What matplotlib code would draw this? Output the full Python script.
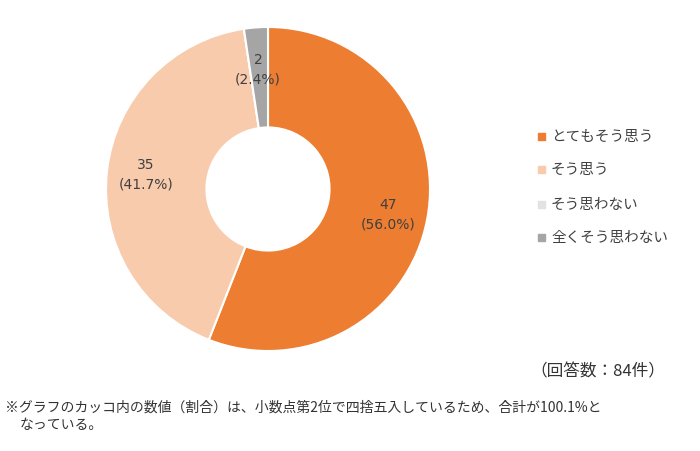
import matplotlib
matplotlib.use("Agg")
import matplotlib.pyplot as plt
import numpy as np

plt.rcParams["font.family"] = "Noto Sans CJK JP"

categories = ["とてもそう思う", "そう思う", "そう思わない", "全くそう思わない"]
values = [47, 35, 0, 2]
pcts = ["56.0%", "41.7%", "0.0%", "2.4%"]
colors = ["#ED7D31", "#F8CBAD", "#E2E2E2", "#A5A5A5"]

fig = plt.figure(figsize=(7, 4.52), dpi=100)
ax = fig.add_axes([(268 - 162) / 700, (452 - 190 - 162) / 452, 324 / 700, 324 / 452])
wedges, _ = ax.pie(values, colors=colors, startangle=90, counterclock=False,
                   wedgeprops=dict(width=0.62, edgecolor="white", linewidth=1.5))
ax.set_xlim(-1, 1)
ax.set_ylim(-1, 1)
ax.set_aspect("equal")

label_px = {0: (388, 215), 1: (146, 175), 3: (258, 70)}
for i, (px, py) in label_px.items():
    fig.text(px / 700, 1 - py / 452, f"{values[i]}\n({pcts[i]})", ha="center", va="center",
             fontsize=10, color="#404040", linespacing=1.5, family="DejaVu Sans")

ys = [137, 170, 205, 238]
for lab, y, col in zip(categories, ys, colors):
    fig.patches.append(plt.Rectangle((538 / 700, 1 - (y + 4) / 452), 7 / 700, 7 / 452,
                                     transform=fig.transFigure, color=col))
    fig.text(551 / 700, 1 - y / 452, lab, ha="left", va="center", fontsize=10.5, color="#404040")

fig.text(665 / 700, 1 - 372 / 452, "（回答数：84件）", ha="right", va="center", fontsize=12, color="#333333")
fig.text(5 / 700, 1 - 408 / 452, "※グラフのカッコ内の数値（割合）は、小数点第2位で四捨五入しているため、合計が100.1%と",
         ha="left", va="center", fontsize=10, color="#333333")
fig.text(20 / 700, 1 - 425 / 452, "なっている。", ha="left", va="center", fontsize=10, color="#333333")

fig.savefig("out.png", dpi=100)
